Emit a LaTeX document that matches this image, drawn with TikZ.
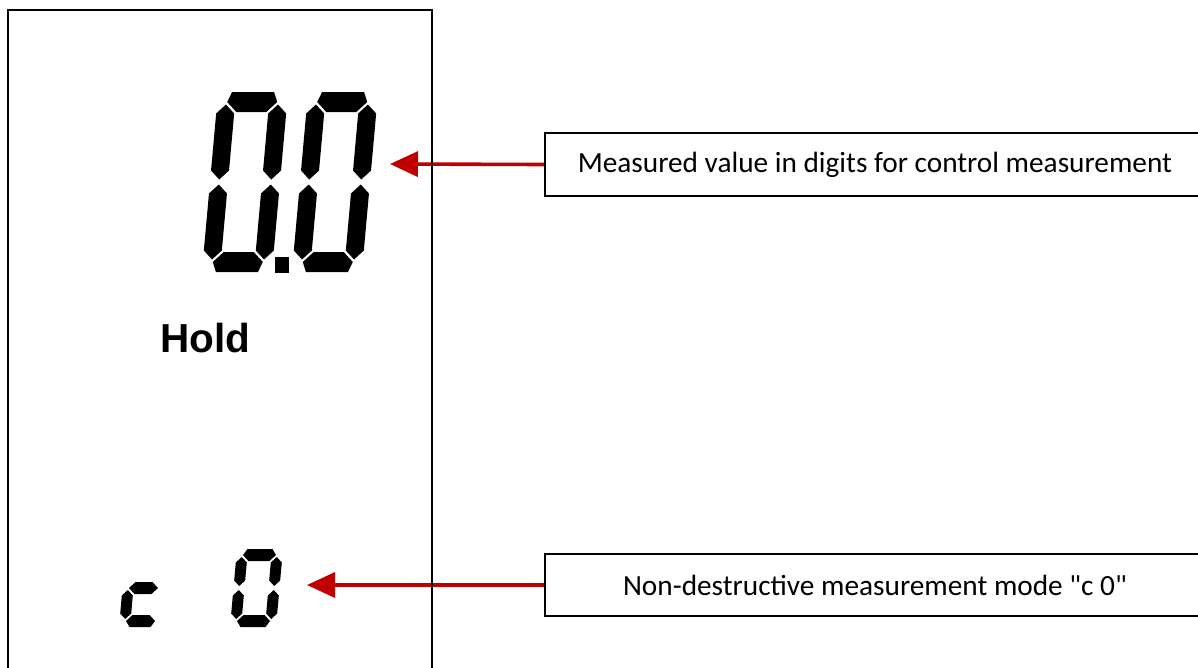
\documentclass[tikz,border=0pt]{standalone}
\usepackage{fontspec}
\setmainfont{Carlito}[Ligatures=TeXOff]
\newfontfamily\lcdfont{Liberation Sans}
\usetikzlibrary{arrows.meta}
\definecolor{arrowRed}{HTML}{C00000}
\tikzstyle{boxNote} = [rectangle, minimum width=660pt, minimum height=63pt, text centered, draw=black, line width=1.8pt, fill=white, anchor=west, font=\fontsize{29.3}{34}\selectfont]
\tikzstyle{arrow} = [line width=3.6pt, draw=arrowRed, -{Triangle[length=28pt, width=25pt, fill=arrowRed]}]
\tikzstyle{lcdFrame} = [draw=black, line width=2pt]

% seven segment bars: verticals at x=0 and x=\digW, bars at y=-\digH, 0, \digH
\newcommand{\digitsize}[6]{\def\digW{#1}\def\digH{#2}\def\segH{#3}\def\segV{#4}\def\gapH{#5}\def\gapV{#6}}
\newcommand{\hseg}[3]{% bar at height #1, corner cut #2 above and #3 below
 \fill (\gapH,#1) -- ({\gapH+#2},{#1-\segH/2}) -- ({\digW-\gapH-#2},{#1-\segH/2}) -- ({\digW-\gapH},#1)
  -- ({\digW-\gapH-#3},{#1+\segH/2}) -- ({\gapH+#3},{#1+\segH/2}) -- cycle;}
\newcommand{\vseg}[3]{% bar at x #1 from #2 down to #3
 \fill (#1,#2) -- ({#1+\segV/2},{#2+\segV/2}) -- ({#1+\segV/2},{#3-\segV/2}) -- (#1,#3)
  -- ({#1-\segV/2},{#3-\segV/2}) -- ({#1-\segV/2},{#2+\segV/2}) -- cycle;}
\newcommand{\lcdzero}{\hseg{-\digH}{4}{\segH/2}\hseg{\digH}{\segH/2}{4}
 \vseg{0}{-\digH+\gapV}{-\gapV}\vseg{0}{\gapV}{\digH-\gapV}
 \vseg{\digW}{-\digH+\gapV}{-\gapV}\vseg{\digW}{\gapV}{\digH-\gapV}}
\newcommand{\lcdc}{\hseg{0}{\segH/2}{\segH/2}\hseg{\digH}{\segH/2}{4}\vseg{0}{\gapV}{\digH-\gapV}}

\begin{document}
\begin{tikzpicture}[x=1pt, y=-1pt]
\useasboundingbox (0,0) rectangle (1198,667);
\clip (0,0) rectangle (1198,667);

% big reading 0.0
\digitsize{52}{80}{20}{18}{1}{2.5}
\begin{scope}[shift={(219,182)}, xslant=0.09] \lcdzero \end{scope}
\begin{scope}[shift={(309,182)}, xslant=0.09] \lcdzero \end{scope}
\fill (275,257) rectangle (289,273);

\node (hold) [anchor=base, font=\lcdfont\bfseries\fontsize{40.5}{48}\selectfont] at (205.5,352) {Hold};

% mode c 0
\digitsize{31}{33}{12}{11}{1}{2}
\begin{scope}[shift={(128,588)}, xslant=0.09] \lcdc \end{scope}
\digitsize{35}{33}{12}{11}{1}{2}
\begin{scope}[shift={(239,588)}, xslant=0.09] \lcdzero \end{scope}

\coordinate (reading) at (390,164);
\coordinate (mode) at (307,585);

\node (readingnote) [boxNote] at (544,164.5) {Measured value in digits for control measurement};
\node (modenote) [boxNote, minimum height=62pt] at (544,585) {Non-destructive measurement mode "c 0"};

\draw [arrow] (readingnote.west) -- (reading);
\draw [arrow] (modenote.west) -- (mode);

\draw [lcdFrame] (8,680) -- (8,10) -- (432,10) -- (432,680);
\end{tikzpicture}
\end{document}
